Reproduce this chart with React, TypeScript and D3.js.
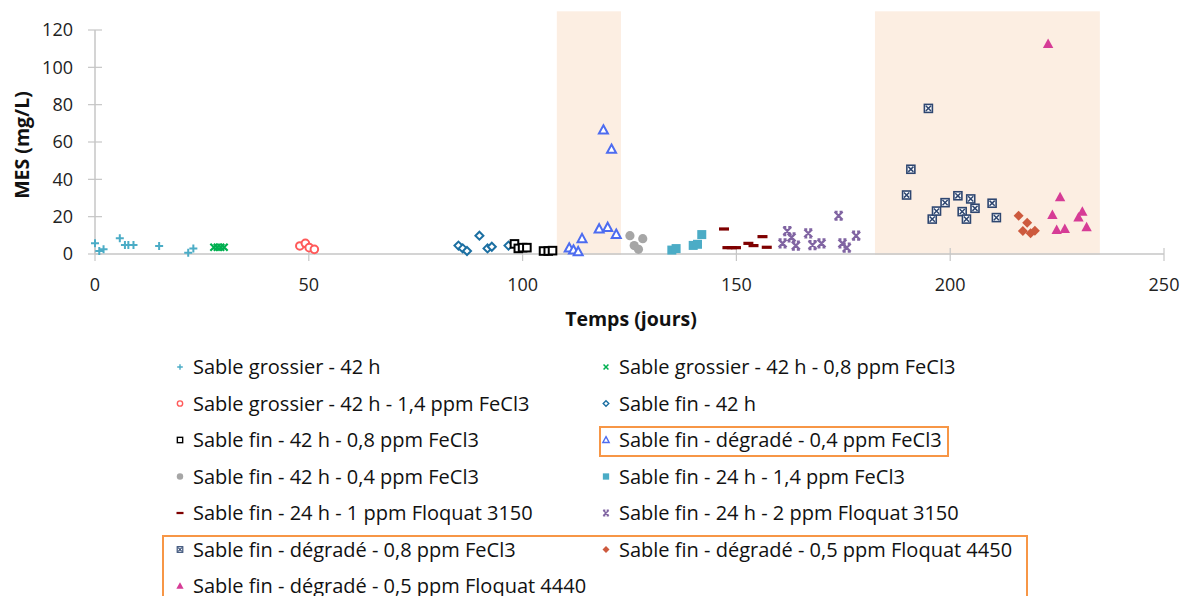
import React from "react";
import * as d3 from "d3";

type Pt = [number, number];

// ---- data ----
const xTickValues = [0, 50, 100, 150, 200, 250];
const yTickValues = [0, 20, 40, 60, 80, 100, 120];
const shadedPeriods: Pt[] = [[108, 123], [182.4, 235]];
const shadeTop = 130;

const grossier42: Pt[] = [[0, 5.7], [1, 1.6], [2, 2.5], [5.8, 8.4], [7, 4.8], [7.8, 4.8], [9, 4.8], [15, 4.3], [21.8, 0.7], [23, 3.0]];
const grossier42Fe08: Pt[] = [[27.8, 3.6], [28.6, 3.6], [29.4, 3.6], [30.2, 3.6]];
const grossier42Fe14: Pt[] = [[47.9, 4.3], [49.2, 5.7], [50.1, 3.4], [51.3, 2.5]];
const fin42: Pt[] = [[85, 4.5], [86, 3.0], [87, 1.6], [89.9, 9.8], [91.8, 3.0], [92.8, 3.9], [96.7, 4.5]];
const fin42Fe08: Pt[] = [[98.1, 5.4], [99, 3.0], [100, 3.4], [101, 3.4], [104.9, 1.6], [106, 1.6], [107, 1.8]];
const degradeFe04: Pt[] = [[110.9, 3.2], [111.9, 2.1], [113, 1.2], [113.9, 8.2], [117.9, 13.4], [118.9, 66.4], [119.9, 14.2], [120.8, 56.1], [121.9, 10.5]];
const fin42Fe04: Pt[] = [[125.1, 9.8], [126.1, 4.5], [127.1, 2.5], [128.1, 8.2]];
const fin24Fe14: Pt[] = [[134.9, 2.1], [135.9, 2.9], [139.9, 4.6], [140.9, 5.2], [141.9, 10.4]];
const fin24Flo1: Pt[] = [[147.1, 13.4], [147.9, 3.4], [148.9, 3.4], [149.9, 3.4], [152.8, 5.7], [154, 4.5], [156.1, 9.3], [157.1, 3.6]];
const fin24Flo2: Pt[] = [[160.8, 5.7], [161.9, 12.3], [162.9, 8.9], [163.9, 4.5], [166.8, 11.1], [167.8, 4.8], [169.9, 5.7], [173.9, 20.5], [174.8, 5.7], [175.8, 3.4], [178, 9.8]];
const degradeFe08: Pt[] = [[189.8, 31.6], [190.8, 45.4], [194.9, 78], [195.8, 18.7], [196.8, 23], [198.8, 27.5], [201.8, 31.2], [202.8, 22.7], [203.8, 18.7], [204.8, 29.5], [205.8, 24.5], [209.8, 27.2], [210.8, 19.5]];
const degradeFlo4450: Pt[] = [[216, 20.5], [217, 12.3], [218, 16.8], [218.8, 11.1], [219.8, 12.5]];
const degradeFlo4440: Pt[] = [[222.9, 112.5], [223.9, 20.9], [224.9, 12.9], [225.7, 30.4], [226.8, 13.4], [230, 19.5], [230.9, 22.7], [231.9, 14.3]];

type Series = { name: string; data: Pt[]; marker: string; color: string };
const series: Series[] = [
  { name: "Sable grossier - 42 h", data: grossier42, marker: "plus", color: "#4BACC6" },
  { name: "Sable grossier - 42 h - 0,8 ppm FeCl3", data: grossier42Fe08, marker: "x", color: "#00B050" },
  { name: "Sable grossier - 42 h - 1,4 ppm FeCl3", data: grossier42Fe14, marker: "circle", color: "#FF5A5A" },
  { name: "Sable fin - 42 h", data: fin42, marker: "diamond", color: "#1B6FA2" },
  { name: "Sable fin - 42 h - 0,8 ppm FeCl3", data: fin42Fe08, marker: "square", color: "#000000" },
  { name: "Sable fin - dégradé - 0,4 ppm FeCl3", data: degradeFe04, marker: "triangle", color: "#4D6CF0" },
  { name: "Sable fin - 42 h - 0,4 ppm FeCl3", data: fin42Fe04, marker: "dot", color: "#A6A6A6" },
  { name: "Sable fin - 24 h - 1,4 ppm FeCl3", data: fin24Fe14, marker: "squareFill", color: "#4BACC6" },
  { name: "Sable fin - 24 h - 1 ppm Floquat 3150", data: fin24Flo1, marker: "dash", color: "#7F0000" },
  { name: "Sable fin - 24 h - 2 ppm Floquat 3150", data: fin24Flo2, marker: "xStar", color: "#8064A2" },
  { name: "Sable fin - dégradé - 0,8 ppm FeCl3", data: degradeFe08, marker: "boxX", color: "#2E4670" },
  { name: "Sable fin - dégradé - 0,5 ppm Floquat 4450", data: degradeFlo4450, marker: "diamondFill", color: "#CD5A3E" },
  { name: "Sable fin - dégradé - 0,5 ppm Floquat 4440", data: degradeFlo4440, marker: "triangleFill", color: "#D63C96" },
];

const FONT = "'Open Sans', 'Noto Sans', sans-serif";

function Marker({ type, color, x, y, s = 1 }: { type: string; color: string; x: number; y: number; s?: number }) {
  const t = `translate(${x},${y}) scale(${s})`;
  switch (type) {
    case "plus":
      return <path transform={t} d="M-4,0H4M0,-4V4" stroke={color} strokeWidth={2} fill="none" />;
    case "x":
      return <path transform={t} d="M-3.5,-3.5L3.5,3.5M-3.5,3.5L3.5,-3.5" stroke={color} strokeWidth={2.2} fill="none" />;
    case "xStar":
      return <path transform={t} d="M-4,-4L4,4M-4,4L4,-4M-4,-4H-1M1,-4H4M-4,4H-1M1,4H4" stroke={color} strokeWidth={2.2} fill="none" />;
    case "circle":
      return <circle transform={t} r={3.8} stroke={color} strokeWidth={2} fill="#fff" />;
    case "dot":
      return <circle transform={t} r={4.6} fill={color} />;
    case "diamond":
      return <path transform={t} d="M0,-4L4,0L0,4L-4,0Z" stroke={color} strokeWidth={2} fill="#fff" />;
    case "diamondFill":
      return <path transform={t} d="M0,-5L5,0L0,5L-5,0Z" fill={color} />;
    case "square":
      return <rect transform={t} x={-3.8} y={-3.8} width={7.6} height={7.6} stroke={color} strokeWidth={2} fill="#fff" />;
    case "squareFill":
      return <rect transform={t} x={-4.5} y={-4.5} width={9} height={9} fill={color} />;
    case "triangle":
      return <path transform={t} d="M0,-4.8L4.5,3.5L-4.5,3.5Z" stroke={color} strokeWidth={2} fill="#fff" strokeLinejoin="miter" />;
    case "triangleFill":
      return <path transform={t} d="M0,-5.5L5.2,4L-5.2,4Z" fill={color} />;
    case "dash":
      return <rect transform={t} x={-5} y={-1.6} width={10} height={3.2} fill={color} />;
    case "boxX":
      return (
        <g transform={t}>
          <rect x={-4} y={-4} width={8} height={8} fill="#fff" stroke={color} strokeWidth={1.6} />
          <path d="M-2.6,-2.6L2.6,2.6M-2.6,2.6L2.6,-2.6" stroke={color} strokeWidth={1.5} />
        </g>
      );
    default:
      return null;
  }
}

export default function App() {
  const W = 1185, H = 596;
  const x = d3.scaleLinear().domain([0, 250]).range([95, 1164]);
  const y = d3.scaleLinear().domain([0, 120]).range([254, 30]);
  const axisColor = "#C6C6C6";

  const legendRowY = (i: number) => 367 + i * 36.5;
  const legendColX = [180, 606];

  return (
    <svg width={W} height={H} style={{ position: "absolute", left: 0, top: 0, background: "#fff" }} fontFamily={FONT}>
      {/* shaded periods */}
      {shadedPeriods.map(([a, b], i) => (
        <rect key={i} x={x(a)} y={y(shadeTop)} width={x(b) - x(a)} height={y(0) - y(shadeTop) + 1} fill="#FCEEE2" />
      ))}
      {/* axes */}
      <line x1={x(0)} x2={x(250)} y1={y(0)} y2={y(0)} stroke={axisColor} strokeWidth={1.5} />
      <line x1={x(0)} x2={x(0)} y1={y(0)} y2={y(120)} stroke={axisColor} strokeWidth={1.5} />
      {yTickValues.map((v) => (
        <g key={v}>
          <line x1={x(0) - 7} x2={x(0) + 7} y1={y(v)} y2={y(v)} stroke={axisColor} strokeWidth={1.2} />
          <text x={73} y={y(v)} dy="0.35em" textAnchor="end" fontSize={18} fill="#222">{v}</text>
        </g>
      ))}
      {xTickValues.map((v) => (
        <g key={v}>
          <line x1={x(v)} x2={x(v)} y1={y(0) - 6} y2={y(0) + 7} stroke={axisColor} strokeWidth={1.2} />
          <text x={x(v)} y={285} dy="0.35em" textAnchor="middle" fontSize={18} fill="#222">{v}</text>
        </g>
      ))}
      <text transform="translate(22,145) rotate(-90)" textAnchor="middle" dy="0.35em" fontSize={19.5} fontWeight="bold" fill="#111">MES (mg/L)</text>
      <text x={631} y={319} textAnchor="middle" dy="0.35em" fontSize={19.5} fontWeight="bold" fill="#111">Temps (jours)</text>

      {/* points */}
      {series.map((s, si) => (
        <g key={si}>
          {s.data.map(([d, v], i) => (
            <Marker key={i} type={s.marker} color={s.color} x={x(d)} y={y(v)} />
          ))}
        </g>
      ))}

      {/* legend */}
      {series.map((s, i) => {
        const col = i % 2;
        const row = Math.floor(i / 2);
        const lx = legendColX[col];
        const ly = legendRowY(row);
        return (
          <g key={i}>
            <Marker type={s.marker} color={s.color} x={lx} y={ly} s={0.7} />
            <text x={lx + 13} y={ly} dy="0.35em" fontSize={20} fill="#111">{s.name}</text>
          </g>
        );
      })}
      <rect x={600} y={427} width={348} height={29} fill="none" stroke="#F79646" strokeWidth={2} />
      <rect x={163} y={536} width={864} height={80} fill="none" stroke="#F79646" strokeWidth={2} />
    </svg>
  );
}
